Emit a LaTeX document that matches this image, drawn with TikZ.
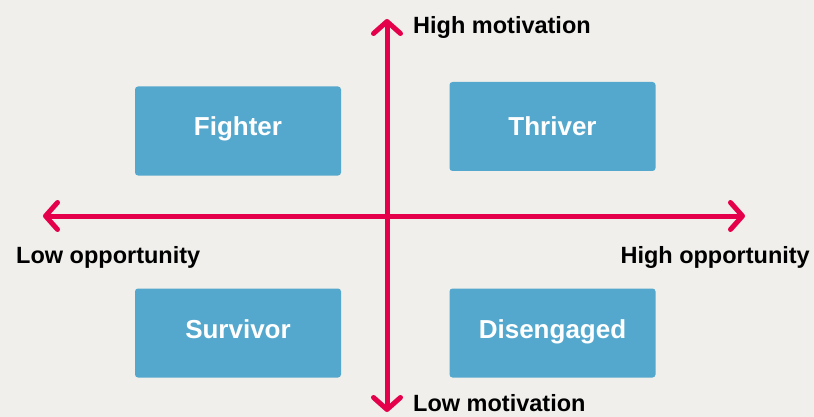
\documentclass[tikz,border=0pt]{standalone}
\usepackage{fontspec}
\setmainfont{Liberation Sans}
\usetikzlibrary{arrows.meta}

\definecolor{paper}{HTML}{F0EFEB}
\definecolor{axisred}{HTML}{E4004B}
\definecolor{boxblue}{HTML}{55A8CD}

\tikzset{
  >={Straight Barb[round,length=12pt,width=27pt]},
  axis/.style={draw=axisred, line width=5pt, line cap=round, <->},
  quadrant/.style={fill=boxblue, rounded corners=3pt, minimum width=206pt, minimum height=89pt,
    inner sep=0pt, text=white, text height=16pt, text depth=6pt,
    font=\bfseries\fontsize{26}{30}\selectfont},
  axislabel/.style={inner sep=0pt, font=\bfseries\fontsize{23.5}{28}\selectfont}
}

\begin{document}
\begin{tikzpicture}[x=1pt,y=-1pt]
% Background
\fill[paper] (0,0) rectangle (814,417);
\useasboundingbox (0,0) rectangle (814,417);

% Axis ends
\coordinate (top) at (387,19);
\coordinate (bottom) at (387,412);
\coordinate (left) at (43,216);
\coordinate (right) at (745,216);

% Axes
\draw[axis] (left) -- (right);
\draw[axis] (bottom) -- (top);

% Quadrants
\node[quadrant] (fighter) at (238,131) {Fighter};
\node[quadrant, text height=25pt] (thriver) at (552.5,126.5) {Thriver};
\node[quadrant] (survivor) at (238,333) {Survivor};
\node[quadrant] (disengaged) at (552.5,333) {Disengaged};

% Labels
\node[axislabel, anchor=base west] (highmot) at (413,34) {High motivation};
\node[axislabel, anchor=base west] (lowmot) at (413,411) {Low motivation};
\node[axislabel, anchor=base west] (lowopp) at (16,263) {Low opportunity};
\node[axislabel, anchor=base east] (highopp) at (810,263) {High opportunity};

\end{tikzpicture}
\end{document}
